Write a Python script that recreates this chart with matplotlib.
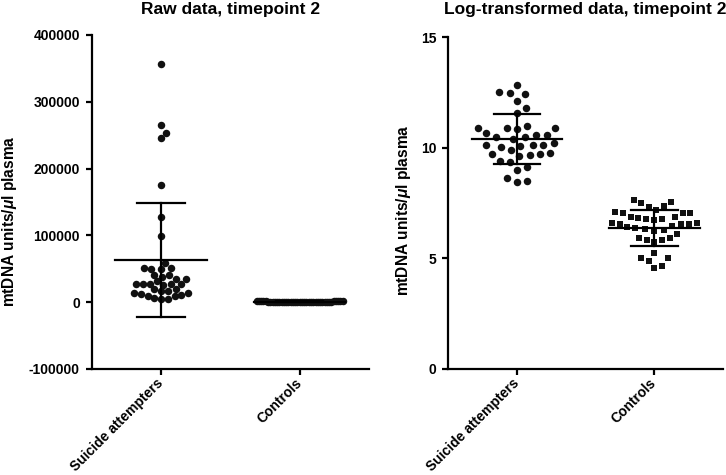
import numpy as np
import matplotlib
matplotlib.use('Agg')
import matplotlib.pyplot as plt

plt.rcParams['font.family'] = ['Liberation Sans', 'DejaVu Sans']
plt.rcParams['font.weight'] = 'bold'
plt.rcParams['mathtext.fontset'] = 'custom'
plt.rcParams['mathtext.rm'] = 'Liberation Sans:bold'
plt.rcParams['mathtext.it'] = 'Liberation Sans:italic:bold'

# Groups on the x axis
groups = ['Suicide attempters', 'Controls']

# Raw data (mtDNA units/ul plasma), timepoint 2
raw_suicide = [356000, 265000, 253000, 246000, 176000, 128000, 99000,
               58000, 51000, 50500, 50000, 49500, 40500, 40000, 38000,
               34500, 34000, 31000, 27500, 27200, 27000, 26800, 26500,
               26200, 19500, 19000, 16800, 16300, 14200, 13800, 11800,
               11300, 9700, 9300, 5800, 5500, 5200]
raw_controls = [2100, 1810, 1920, 1590, 1540, 1330, 1180, 1140, 1140,
                1210, 860, 980, 900, 940, 980, 840, 740, 710, 690, 710,
                740, 640, 600, 580, 550, 530, 510, 455, 375, 345, 310,
                335, 375, 190, 150, 135, 150, 105, 95]

# Log-transformed data, timepoint 2
log_suicide = [12.83, 12.48, 12.43, 12.51, 12.13, 11.82, 11.56, 11.00,
               10.88, 10.85, 10.88, 10.91, 10.65, 10.57, 10.47, 10.42,
               10.50, 10.60, 10.24, 10.15, 10.11, 10.04, 10.09, 10.11,
               9.89, 9.78, 9.70, 9.61, 9.66, 9.70, 9.40, 9.36, 9.13,
               9.00, 8.62, 8.44, 8.52]
log_controls = [7.65, 7.50, 7.56, 7.37, 7.34, 7.19, 7.07, 7.04, 7.04,
                7.10, 6.76, 6.89, 6.80, 6.84, 6.89, 6.73, 6.61, 6.57,
                6.54, 6.57, 6.61, 6.46, 6.40, 6.36, 6.31, 6.28, 6.23,
                6.12, 5.93, 5.85, 5.74, 5.82, 5.93, 5.24, 5.01, 4.89,
                5.01, 4.66, 4.56]

raw_ticks = [-100000, 0, 100000, 200000, 300000, 400000]
log_ticks = [0, 5, 10, 15]


def swarm_offsets(ypix, d, max_half):
    """Beeswarm-like x offsets (pixels) so dots of spacing d don't collide."""
    ypix = np.asarray(ypix, dtype=float)
    xs = np.zeros(len(ypix))
    placed = []
    for i in np.argsort(ypix):
        y = ypix[i]
        cands = [0.0]
        for px, py in placed:
            dy = abs(y - py)
            if dy < d:
                dx = np.sqrt(d * d - dy * dy)
                cands += [px + dx, px - dx]
        cands.sort(key=abs)
        for c in cands:
            if all((c - px) ** 2 + (y - py) ** 2 >= d * d - 1e-6
                   for px, py in placed):
                break
        xs[i] = c
        placed.append((c, y))
    # squeeze very wide rows into the group width
    m = np.abs(xs).max()
    if m > max_half:
        xs *= max_half / m
    return xs


def draw_group(ax, pos, values, marker, msize, spacing):
    """Scatter dots + mean line + SD error bar for one group."""
    values = np.asarray(values, dtype=float)
    ypix = ax.transData.transform(
        np.column_stack([np.full(len(values), pos), values]))[:, 1]
    x0 = ax.transData.transform((0, 0))[0]
    x1 = ax.transData.transform((1, 0))[0]
    px_per_unit = x1 - x0
    offs = swarm_offsets(ypix, spacing, 0.31 * px_per_unit)
    ax.plot(pos + offs / px_per_unit, values, linestyle='none',
            marker=marker, markersize=msize, color='#111111',
            markeredgewidth=0, zorder=3)

    mean = values.mean()
    sd = values.std(ddof=1)
    ax.plot([pos - 0.33, pos + 0.33], [mean, mean],
            color='black', linewidth=1.6, zorder=4)
    ax.plot([pos, pos], [mean - sd, mean + sd],
            color='black', linewidth=1.6, zorder=4)
    for v in (mean - sd, mean + sd):
        ax.plot([pos - 0.17, pos + 0.17], [v, v],
                color='black', linewidth=1.6, zorder=4)


def style_axis(ax, ticks, title, pad, label_y, label_x):
    ax.set_xlim(-0.5, 1.5)
    ax.set_ylim(ticks[0], ticks[-1])
    ax.set_yticks(ticks)
    ax.set_yticklabels([str(t) for t in ticks], fontsize=10,
                       fontweight='bold')
    ax.set_xticks([0, 1])
    ax.set_xticklabels(groups, fontsize=10, fontweight='bold',
                       rotation=45, ha='right', va='center',
                       rotation_mode='anchor')
    for s in ['top', 'right']:
        ax.spines[s].set_visible(False)
    for s in ['left', 'bottom']:
        ax.spines[s].set_linewidth(1.6)
    ax.tick_params(width=1.6, length=4.5, pad=4)
    ax.set_ylabel(r'mtDNA units/$\mathit{\mu}$l plasma', fontsize=11.2,
                  fontweight='bold')
    ax.yaxis.set_label_coords(label_x, label_y)
    ax.set_title(title, fontsize=12.5, fontweight='bold', pad=pad)


fig = plt.figure(figsize=(7.26, 4.75), dpi=100)
ax1 = fig.add_axes([0.1263, 0.2232, 0.3820, 0.7032])
ax2 = fig.add_axes([0.6175, 0.2232, 0.3784, 0.6983])

style_axis(ax1, raw_ticks, 'Raw data, timepoint 2', 15, 0.443, -0.262)
style_axis(ax2, log_ticks, 'Log-transformed data, timepoint 2', 16.5,
           0.479, -0.128)

draw_group(ax1, 0, raw_suicide, 'o', 5.4, 7.0)
draw_group(ax1, 1, raw_controls, 'o', 5.4, 7.0)
draw_group(ax2, 0, log_suicide, 'o', 5.4, 10.5)
draw_group(ax2, 1, log_controls, 's', 4.9, 10.5)

fig.savefig('out.png', dpi=100)
